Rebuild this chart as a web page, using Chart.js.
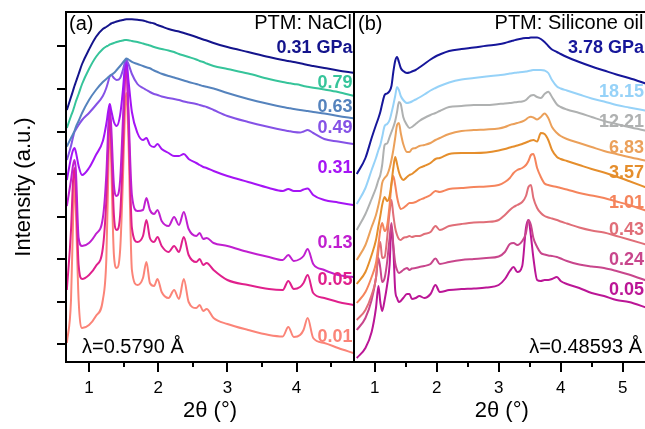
<!DOCTYPE html>
<html><head><meta charset="utf-8">
<script src="https://cdn.jsdelivr.net/npm/chart.js@4.4.1/dist/chart.umd.min.js"></script>
<style>
html,body{margin:0;padding:0;overflow:hidden;background:#fff;width:645px;height:429px;}
#wrap{position:relative;width:645px;height:429px;overflow:hidden;background:#fff;}
#ca{position:absolute;left:0;top:0;}
#cb{position:absolute;left:354px;top:0;}
</style></head><body>
<div id="wrap"><canvas id="ca" width="356" height="429"></canvas><canvas id="cb" width="300" height="429"></canvas></div>
<script>
// ---------- Panel (a): PTM NaCl, lambda = 0.5790 A ----------
const xA = [0.68,0.74,0.77,0.79,0.81,0.85,0.90,1.00,1.10,1.20,1.25,1.28,1.30,1.32,1.36,1.40,1.45,1.49,1.52,1.54,1.57,1.62,1.70,1.78,1.83,1.88,1.94,1.99,2.05,2.15,2.23,2.30,2.37,2.44,2.55,2.60,2.65,2.70,2.80,3.00,3.30,3.60,3.80,3.88,3.96,4.05,4.10,4.16,4.24,4.40,4.60,4.82];
const a_031top = [252,265,271.5,276,280,288,298,312.5,325,333,335,336.5,337.5,338.5,339.5,340.5,341.5,342,342.5,342.7,342.8,342.7,342.2,341.5,340.5,339.5,338.5,337,335.5,333,331.5,330.5,329,327.5,325,323.7,322.5,321.5,319,315,310,305,302,301,300,298.7,298,297,296,294,291.5,289.3];
const a_079 = [234,246,251.5,256,260.5,268,278,293,305,313,315.5,316.5,317.5,318,319,320,321,321.5,322,322,321.8,321,320,318.5,317.5,316.5,315,314,313,311.5,310,308,306.5,305,302.5,301,300,298.5,296,293,288.5,283,280,279,278,277,276,275.3,274.3,272.5,270,266.3];
const a_063 = [215.5,224,228,231,235,241,249,262,272,280,283,285,286,287,289,292,296,299.5,302,303.5,302.5,300.2,298,296,294.7,293.7,291.5,290,288.2,286,284.5,283,281.5,280,278,277,276,275.2,273.5,269,263,258,255,254,253,252,251.5,251,250,248.5,246,243.7];
const a_049 = [202,216,225,230,232.5,237,242,249,257,266,274,281,286,287,284,282,284,292,300,302,298,288,278,274,272,270,268,267,265.5,264,263,262,260.5,259.5,258,257,256,255,252,246,240,235,232,231,230,229.5,230.5,232,229,223,220.5,218];
const a_031 = [182,204,212,214,210,196,187,194,207,221,238,252,258,252,240,236,247,272,296,302,282,250,229,222,224,217,215,218,213,209,206,206,208,203,199,197,195,194,191,186,180,174,171,173,171,171,172.5,173.5,167,162,159.5,157];
const a_013 = [156,182,197,202,192,124,116,119,128,144,187,237,254,237,177,166,182,242,292,302,252,167,151,152,164,152,148,152,141,136,145,137,150,133,126,129,123,124,119,116,110,105,102,107,101,103,106,113,98,92,87,85];
const a_005 = [72,132,182,194,172,97,83,87,96,114,162,222,250,222,147,132,147,212,282,296,242,134,120,126,142,124,120,125,116,110,116,110,125,107,100,103,97,99,92,82,77,73,72,81,73,75,79,87,69,64,60,57];
const a_001 = [19,62,142,184,152,62,34,37,46,62,102,192,247,202,107,94,112,182,252,269,222,92,77,84,100,79,76,83,70,64,72,63,83,60,54,57,51,53,44,38,32,27,25.5,35,25,27,32,44,24,19,14,9];
const seriesA = [a_031top,a_079,a_063,a_049,a_031,a_013,a_005,a_001];
const pressuresA = ['0.31 GPa','0.79','0.63','0.49','0.31','0.13','0.05','0.01'];

// ---------- Panel (b): PTM silicone oil, lambda = 0.48593 A ----------
const xB = [0.71,0.85,0.95,1.02,1.06,1.09,1.12,1.16,1.20,1.24,1.27,1.30,1.33,1.36,1.39,1.42,1.46,1.52,1.56,1.60,1.66,1.72,1.80,1.90,1.98,2.05,2.20,2.40,2.60,2.80,3.00,3.10,3.18,3.24,3.30,3.38,3.44,3.48,3.52,3.56,3.62,3.68,3.74,3.80,3.86,3.94,4.00,4.10,4.30,4.50,4.70,4.90,5.10,5.40];
const b_378 = [188,204,224,237,244,250,258,267,268.5,271,276,290,301,305,300,294,291,289,289.5,290.5,292,294.5,298,302.5,305.5,307.5,311,313,314.5,316.3,317.7,319,320.5,321.5,322.5,323.5,324,324,324.5,324.5,324.5,323,320,316,312.5,310,308,305,300,295.5,291.5,287.5,284,278];
const b_1815 = [158,174,192,204,212,217,225,236,238,242,249,257,266,275,272,266,262,259,259.5,260.5,262.5,264.5,267.5,271.5,274,276,279.5,282.5,284,285.5,286.8,287.5,288.5,289,289.5,290,290.5,291,291.5,292,292,292,291.5,289,282,275.5,273.5,271.5,267.5,263.5,260.5,257,254.5,251];
const b_1221 = [132,148,163,174,182,187,197,217,218.5,225,230,235,241,250,260,258,245,237,234,235,238,241,244,247,249,251,255,256,257,257,258,258.5,259,259.5,260,260.5,262,264.5,266.5,267,265,264,268,270.3,265,257.5,255,252.5,249,245,241,238,235,231];
const b_683 = [102,117,135,147,157,166,179,184,187,194,202,212,224,237,239,229,218,210,210,213,214,216,217,219,222,224,228,231,232,232.5,233.5,235,237,238,239,240.5,242.5,244.5,245.3,244.5,242.5,245,248.5,244,235,229,226,223,219,215,211,208,205,201];
const b_357 = [78,90,107,122,136,146,157,165,161,166,179,194,205,198,190,185,182,185,187,188,191,194,196,199,203,204,208,209,209,209.5,211.5,213,214.5,215.5,216.5,218,219.5,220.5,221.5,222,220.5,229,228,222,212,205,203,201,197,193,189.5,185.5,181,174];
const b_101 = [59,70,85,99,117,132,139,131,136,157,177,186,177,165,157,153,154,157,159,159,160,162,164,167,171,170,173,174,175,175.5,177,180,184,189,192,194,197,201,207,208,194,185,178.5,177,176,175,174,172.5,169,166.5,164,160.5,157,151];
const b_043 = [42,52,67,84,112,120,104,105,124,150,162,147,134,127,123,122,124,125,126,125,126,126,128,130,136,132,136,138,139.5,140,142,147,152,155,157,160,166,175,177,164,154,149,146,144.5,143.5,142,140.5,138.5,134.5,131.5,129.5,126,122.5,117];
const b_024 = [32,44,62,84,104,94,80,84,100,124,139,117,99,92,89,90,92,94,92,93.5,94,95,96,98,103.5,98,100,102,103,104,105.5,110,118,119,117,121,129,142,137,124,115,109,107.5,106.5,106,105,103.5,101,97.5,95.5,94,91,87.5,81];
const b_005 = [4,14,30,54,76,60,51,62,77,97,136,114,72,64,60,61,64,68,68,63,64,66,64,68,77,70,72,73,73.5,74.5,77,83,91,95,90,96,134,142,126,104,82,81,82,82,83,85,81,78,74,69,66,62,60,54];
const seriesB = [b_378,b_1815,b_1221,b_683,b_357,b_101,b_043,b_024,b_005];
const pressuresB = ['3.78 GPa','18.15','12.21','6.83','3.57','1.01','0.43','0.24','0.05'];

// axis tick values
const yTicksA = [18,60.5,103,145.5,188,230.5,273,315.5];

// ---------- styles & layout (not data) ----------
const colorsA = ['#14148c','#36c49a','#5583bd','#8552e6','#a514f5','#c01fd0','#e0208c','#fb8478'];
const colorsB = ['#16169a','#96d2f8','#afb1b1','#eba05a','#e58e2c','#f5845c','#e06e78','#c8468c','#bb1696'];
const labelPosA = [313.7,278.7,255.3,233.7,193.7,118.7,82,25.3];
const labelPosB = [313.7,270.3,240.3,213.7,188.7,158.7,132,102,72];

const FONT = "'Liberation Sans', Arial, Helvetica, sans-serif";
Chart.defaults.font.family = FONT;
Chart.defaults.color = '#000';

const framePlugin = {
  id: 'frame',
  afterDraw(chart, args, o) {
    const {ctx, chartArea: a, scales} = chart;
    ctx.save();
    ctx.strokeStyle = '#000';
    ctx.lineWidth = 2;
    ctx.beginPath();
    ctx.moveTo(a.left - 1, a.top); ctx.lineTo(a.right + 1, a.top);
    ctx.moveTo(a.left - 1, a.bottom); ctx.lineTo(a.right + 1, a.bottom);
    if (o.left) { ctx.moveTo(a.left, a.top); ctx.lineTo(a.left, a.bottom); }
    if (o.right) { ctx.moveTo(a.right, a.top); ctx.lineTo(a.right, a.bottom); }
    const xs = scales.x;
    xs.ticks.forEach(t => {
      const px = Math.round(xs.getPixelForValue(t.value));
      const len = Number.isInteger(t.value) ? 10 : 5;
      ctx.moveTo(px, a.bottom); ctx.lineTo(px, a.bottom + len);
    });
    (o.yTicks || []).forEach(v => {
      const py = Math.round(scales.y.getPixelForValue(v));
      ctx.moveTo(a.left, py); ctx.lineTo(a.left - 9, py);
    });
    ctx.stroke();
    // texts
    ctx.textBaseline = 'middle';
    (o.texts || []).forEach(t => {
      ctx.font = t.font;
      ctx.fillStyle = t.color || '#000';
      ctx.textAlign = t.align;
      ctx.fillText(t.text, t.x, t.y);
    });
    const ys = scales.y;
    ctx.font = 'bold 18px ' + FONT;
    ctx.textAlign = 'right';
    o.labels.forEach((lab, i) => {
      ctx.fillStyle = o.labelColors[i];
      ctx.fillText(lab, o.labelRight, ys.getPixelForValue(o.labelPos[i]));
    });
    ctx.restore();
  }
};

function makeDatasets(xs, series, names, colors) {
  return series.map((ys, i) => ({
    label: names[i],
    data: xs.map((x, j) => ({x: x, y: ys[j]})),
    borderColor: colors[i],
    borderWidth: 2,
    pointRadius: 0,
    fill: false,
    cubicInterpolationMode: 'monotone'
  }));
}

function xScale(min, max) {
  return {
    type: 'linear', min: min, max: max,
    border: {display: false},
    grid: {display: false, drawTicks: false},
    ticks: {stepSize: 0.5, includeBounds: false, autoSkip: false, maxRotation: 0,
      padding: 16, font: {size: 17}, color: '#000',
      callback: v => Number.isInteger(v) ? String(v) : ''},
    title: {display: true, text: '2\u03b8 (\u00b0)', font: {size: 22}, color: '#000', padding: {top: 0, bottom: 5}},
    afterFit: s => { s.height = 67; }
  };
}

const NORMAL20 = '20px ' + FONT;

new Chart(document.getElementById('ca'), {
  type: 'line',
  data: {datasets: makeDatasets(xA, seriesA, pressuresA, colorsA)},
  options: {
    responsive: false, animation: false, devicePixelRatio: 1,
    layout: {padding: {top: 12, right: 2, left: 0, bottom: 0}},
    plugins: {legend: {display: false}, tooltip: {enabled: false},
      frame: {left: true, right: true, yTicks: yTicksA,
        labels: pressuresA, labelColors: colorsA, labelPos: labelPosA, labelRight: 352.5,
        texts: [
          {text: '(a)', x: 69, y: 24, align: 'left', font: NORMAL20},
          {text: 'PTM: NaCl', x: 352, y: 23, align: 'right', font: NORMAL20},
          {text: '\u03bb=0.5790 \u00c5', x: 82, y: 347, align: 'left', font: NORMAL20}
        ]}},
    scales: {
      x: xScale(0.6676, 4.8295),
      y: {type: 'linear', min: 0, max: 350,
        border: {display: false}, grid: {display: false, drawTicks: false},
        ticks: {display: false},
        title: {display: true, text: 'Intensity (a.u.)', font: {size: 22}, color: '#000', padding: {top: 11, bottom: 0}},
        afterFit: s => { s.width = 66; }}
    }
  },
  plugins: [framePlugin]
});

new Chart(document.getElementById('cb'), {
  type: 'line',
  data: {datasets: makeDatasets(xB, seriesB, pressuresB, colorsB)},
  options: {
    responsive: false, animation: false, devicePixelRatio: 1,
    layout: {padding: {top: 12, right: 6, left: 0, bottom: 0}},
    plugins: {legend: {display: false}, tooltip: {enabled: false},
      frame: {left: false, right: true,
        labels: pressuresB, labelColors: colorsB, labelPos: labelPosB, labelRight: 290,
        texts: [
          {text: '(b)', x: 4, y: 24, align: 'left', font: NORMAL20},
          {text: 'PTM: Silicone oil', x: 289.5, y: 23, align: 'right', font: NORMAL20},
          {text: '\u03bb=0.48593 \u00c5', x: 288, y: 347, align: 'right', font: NORMAL20}
        ]}},
    scales: {
      x: xScale(0.690, 5.409),
      y: {type: 'linear', min: 0, max: 350, display: false}
    }
  },
  plugins: [framePlugin]
});
</script>
</body></html>
